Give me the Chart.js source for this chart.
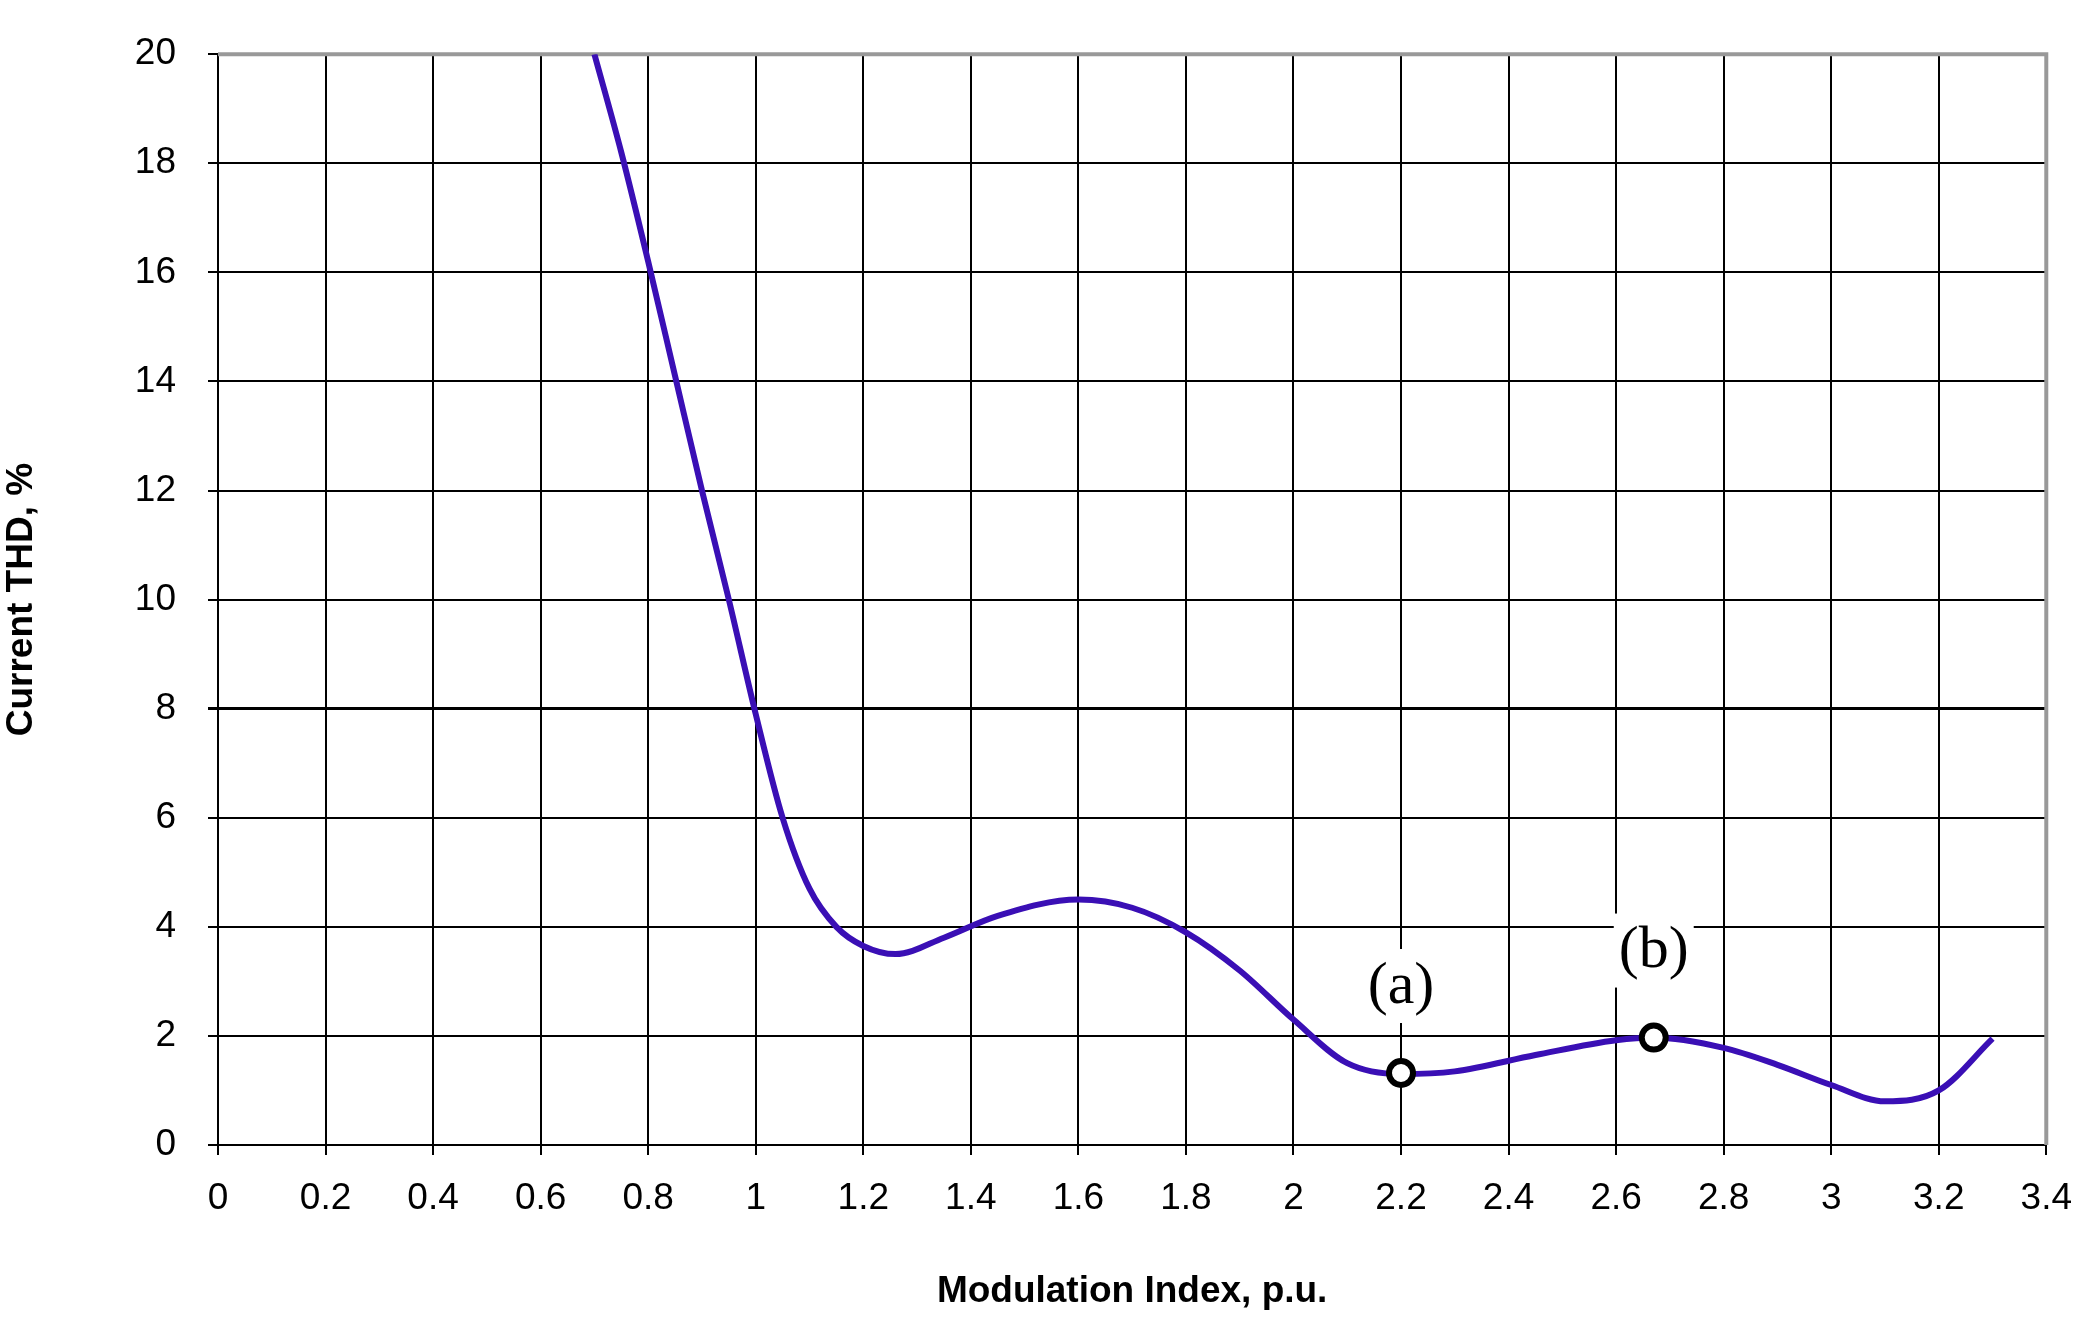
<!DOCTYPE html>
<html>
<head>
<meta charset="utf-8">
<script src="https://cdn.jsdelivr.net/npm/chart.js@4.4.0/dist/chart.umd.min.js"></script>
<style>
  html, body { margin: 0; padding: 0; background: #fff; }
</style>
</head>
<body>
<canvas id="chart" width="2094" height="1334"></canvas>
<script>
// curve
const modIndex = [0.7, 0.75, 0.8, 0.85, 0.9, 0.95, 1.0, 1.05, 1.1, 1.15, 1.2, 1.26, 1.35, 1.45, 1.6, 1.7, 1.8, 1.9, 2.0, 2.1, 2.2, 2.3, 2.45, 2.6, 2.67, 2.8, 2.9, 3.0, 3.1, 3.2, 3.3];
const thd = [20, 18.2, 16.2, 14.1, 12.0, 10.0, 7.9, 6.0, 4.7, 4.0, 3.65, 3.5, 3.8, 4.2, 4.5, 4.35, 3.9, 3.2, 2.3, 1.5, 1.3, 1.35, 1.65, 1.92, 1.97, 1.78, 1.47, 1.1, 0.8, 1.0, 1.95];
const markX = [2.2, 2.67];
const markY = [1.32, 1.97];
const markLabels = ['(a)', '(b)'];

const labelPlugin = {
  id: 'markLabels',
  afterDatasetsDraw(chart) {
    const ctx = chart.ctx;
    const xs = chart.scales.x, ys = chart.scales.y;
    ctx.save();
    ctx.font = '60px "Liberation Serif", "Times New Roman", serif';
    ctx.textAlign = 'center';
    ctx.textBaseline = 'middle';
    markLabels.forEach((t, i) => {
      const px = xs.getPixelForValue(markX[i]);
      const py = ys.getPixelForValue(markY[i]) - 86;
      const w = ctx.measureText(t).width + 10;
      ctx.fillStyle = '#fff';
      ctx.fillRect(px - w / 2, py - 38, w, 74);
      ctx.fillStyle = '#000';
      ctx.fillText(t, px, py);
    });
    ctx.restore();
  }
};

new Chart(document.getElementById('chart'), {
  type: 'scatter',
  data: {
    datasets: [{
      data: markX.map((x, i) => ({ x: x, y: markY[i] })),
      showLine: false,
      pointRadius: 12,
      pointBorderWidth: 6,
      pointBackgroundColor: '#fff',
      pointBorderColor: '#000',
      order: 0
    }, {
      data: modIndex.map((x, i) => ({ x: x, y: thd[i] })),
      showLine: true,
      borderColor: '#3a0fb5',
      borderWidth: 6,
      tension: 0.4,
      cubicInterpolationMode: 'monotone',
      pointRadius: 0,
      order: 1
    }]
  },
  options: {
    responsive: false,
    animation: false,
    devicePixelRatio: 1,
    layout: { padding: { top: 32, right: 47, left: 0, bottom: 0 } },
    plugins: { legend: { display: false }, tooltip: { enabled: false } },
    scales: {
      x: {
        type: 'linear', min: 0, max: 3.4,
        afterFit(s) { s.height = 189; },
        ticks: {
          stepSize: 0.2, color: '#000', padding: 22,
          font: { family: '"Liberation Sans", Arial', size: 37 },
          callback: v => String(Number(v.toFixed(1)))
        },
        grid: { color: '#000', lineWidth: 2, tickLength: 10 },
        border: { color: '#000', width: 2 },
        title: {
          display: true, text: 'Modulation Index, p.u.', color: '#000',
          font: { family: '"Liberation Sans", Arial', size: 37, weight: 'bold' },
          padding: { top: 0, bottom: 20 }
        }
      },
      y: {
        min: 0, max: 20,
        afterFit(s) { s.width = 218; },
        ticks: {
          stepSize: 2, color: '#000', padding: 32,
          font: { family: '"Liberation Sans", Arial', size: 37 }
        },
        grid: {
          color: '#000', tickLength: 10,
          lineWidth: c => c.tick && c.tick.value === 8 ? 3 : 2
        },
        border: { color: '#000', width: 2 },
        title: {
          display: true, text: 'Current THD, %', color: '#000',
          font: { family: '"Liberation Sans", Arial', size: 37, weight: 'bold' },
          padding: { top: 0, bottom: 0 }
        }
      }
    }
  },
  plugins: [labelPlugin, {
    id: 'frame',
    beforeDatasetsDraw(chart) {
      const a = chart.chartArea, ctx = chart.ctx;
      ctx.save();
      ctx.strokeStyle = '#999';
      ctx.lineWidth = 4;
      ctx.beginPath();
      ctx.moveTo(a.left, a.top);
      ctx.lineTo(a.right, a.top);
      ctx.lineTo(a.right, a.bottom);
      ctx.stroke();
      ctx.restore();
    }
  }]
});
</script>
</body>
</html>
